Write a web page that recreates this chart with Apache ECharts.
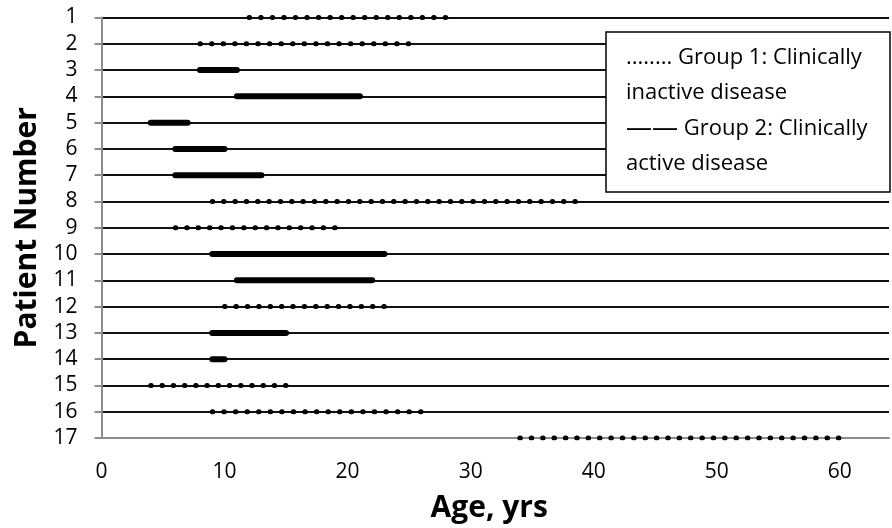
<!DOCTYPE html>
<html>
<head>
<meta charset="utf-8">
<script src="https://cdn.jsdelivr.net/npm/echarts@6/dist/echarts.min.js"></script>
<style>
html,body{margin:0;padding:0;background:#fff;}
#chart{width:892px;height:528px;}
</style>
</head>
<body>
<div id="chart"></div>
<script>
const patients = ['1','2','3','4','5','6','7','8','9','10','11','12','13','14','15','16','17'];
const groups   = [1,1,2,2,2,2,2,1,1,2,2,1,2,2,1,1,1];
const startAge = [12,8,8,11,4,6,6,9,6,9,11,10,9,9,4,9,34];
const endAge   = [28,25,11,21,7,10,13,38.6,19,23,22,23,15,10,15,26,60];
const xTicks = [0,10,20,30,40,50,60];

const FONT = 'Open Sans';
const DOT_STEP = 11.4;

function makeSeries(gaps) {
  return patients.map((p, i) => ({
    type: 'line',
    name: 'Group ' + groups[i],
    data: [[startAge[i], p], [endAge[i], p]],
    symbol: 'none',
    silent: true,
    animation: false,
    z: 5,
    lineStyle: groups[i] === 1
      ? { color: '#000', width: 5, type: [0.5, gaps ? gaps[i] : DOT_STEP - 0.5], cap: 'round' }
      : { color: '#000', width: 6, type: 'solid', cap: 'round' }
  }));
}

const legendFont = '22px "Open Sans"';

const chart = echarts.init(document.getElementById('chart'));
chart.setOption({
  animation: false,
  backgroundColor: '#fff',
  grid: { left: 101.5, right: 0, top: 17.5, bottom: 90 },
  xAxis: {
    type: 'value',
    min: 0, max: 64, interval: 10,
    splitLine: { show: false },
    axisTick: { show: false },
    axisLine: { show: true, lineStyle: { color: '#8c8c8c', width: 2 } },
    axisLabel: {
      color: '#000', fontFamily: FONT, fontSize: 21, margin: 24,
      formatter: v => xTicks.indexOf(v) >= 0 ? String(v) : ''
    },
    name: 'Age, yrs', nameLocation: 'middle', nameGap: 55,
    nameTextStyle: { color: '#000', fontFamily: FONT, fontSize: 30, fontWeight: 'bold', padding: [0, 12, 0, 0] }
  },
  yAxis: {
    type: 'category',
    data: patients,
    inverse: true,
    boundaryGap: false,
    axisLine: { show: true, lineStyle: { color: '#8c8c8c', width: 2 } },
    axisTick: { show: true, length: 7, inside: false, lineStyle: { color: '#8c8c8c', width: 2 } },
    axisLabel: { color: '#000', fontFamily: FONT, fontSize: 21, margin: 24, interval: 0 },
    splitLine: {
      show: true,
      interval: (idx) => idx !== patients.length - 1,
      lineStyle: { color: '#111', width: 2 }
    },
    name: 'Patient Number', nameLocation: 'middle', nameGap: 51, nameRotate: 90,
    nameTextStyle: { color: '#000', fontFamily: FONT, fontSize: 30, fontWeight: 'bold' }
  },
  graphic: [
    { type: 'rect', z: 100, shape: { x: 606, y: 32, width: 284, height: 160 },
      style: { fill: '#fff', stroke: '#000', lineWidth: 1.5 } },
    { type: 'text', z: 101, x: 626, y: 58, style: { text: '........ Group 1: Clinically', font: legendFont, fill: '#000', verticalAlign: 'middle' } },
    { type: 'text', z: 101, x: 626, y: 93, style: { text: 'inactive disease', font: legendFont, fill: '#000', verticalAlign: 'middle' } },
    { type: 'text', z: 101, x: 626, y: 129, style: {
        text: '{d|——} Group 2: Clinically', font: legendFont, fill: '#000', verticalAlign: 'middle',
        rich: { d: { fontFamily: FONT, fontSize: 26, fill: '#000' } } } },
    { type: 'text', z: 101, x: 626, y: 164, style: { text: 'active disease', font: legendFont, fill: '#000', verticalAlign: 'middle' } }
  ],
  series: makeSeries(null)
});

// fit dot spacing so dots land at both ends of each dotted range
const gaps = patients.map((p, i) => {
  const a = chart.convertToPixel({ gridIndex: 0 }, [startAge[i], p]);
  const b = chart.convertToPixel({ gridIndex: 0 }, [endAge[i], p]);
  const len = Math.abs(b[0] - a[0]);
  const n = Math.max(1, Math.round(len / DOT_STEP));
  return len / n - 0.5 - 0.05;
});
chart.setOption({ series: makeSeries(gaps) });
</script>
</body>
</html>
